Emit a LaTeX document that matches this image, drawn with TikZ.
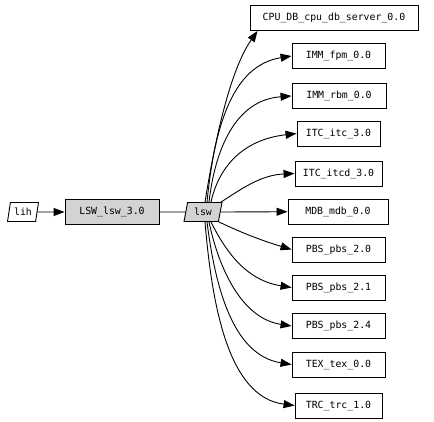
\documentclass[tikz,border=0pt]{standalone}
\usepackage{fontspec}
\setmonofont{DejaVu Sans Mono}
\usetikzlibrary{shapes.geometric,arrows.meta}
\definecolor{boxgray}{RGB}{211,211,211}
\begin{document}
\begin{tikzpicture}[x=1bp,y=-1bp,
  every node/.style={font=\ttfamily\fontsize{9.9}{11}\selectfont, inner sep=0pt, line width=0.9bp},
  tbox/.style={draw, rectangle, minimum height=25bp},
  para/.style={draw, trapezium, trapezium left angle=75, trapezium right angle=105, trapezium stretches=true, minimum height=19bp},
  edge/.style={line width=0.9bp, -{Triangle[length=11bp,width=8bp]}}]
\useasboundingbox (0,0) rectangle (434,421);
\node[para, minimum width=31bp] (lih) at (23,212) {lih};
\node[tbox, fill=boxgray, minimum width=94bp] (lswbox) at (112,212) {LSW\_lsw\_3.0};
\node[para, fill=boxgray, minimum width=38bp] (lsw) at (203,212) {lsw};
\node[tbox, minimum width=168bp] (cpu) at (334,18) {CPU\_DB\_cpu\_db\_server\_0.0};
\node[tbox, minimum width=93bp] (fpm) at (338.5,56) {IMM\_fpm\_0.0};
\node[tbox, minimum width=94bp] (rbm) at (339,96) {IMM\_rbm\_0.0};
\node[tbox, minimum width=83bp] (itc) at (338.5,133.5) {ITC\_itc\_3.0};
\node[tbox, minimum width=87bp] (itcd) at (338.5,173.5) {ITC\_itcd\_3.0};
\node[tbox, minimum width=100bp] (mdb) at (338,211.5) {MDB\_mdb\_0.0};
\node[tbox, minimum width=93bp] (p20) at (338.5,249.5) {PBS\_pbs\_2.0};
\node[tbox, minimum width=93bp] (p21) at (338.5,287.5) {PBS\_pbs\_2.1};
\node[tbox, minimum width=93bp] (p24) at (338.5,326) {PBS\_pbs\_2.4};
\node[tbox, minimum width=93bp] (tex) at (338.5,364.5) {TEX\_tex\_0.0};
\node[tbox, minimum width=87bp] (trc) at (338.5,405.5) {TRC\_trc\_1.0};
\draw[edge] (lih) -- (lswbox);
\draw[line width=0.9bp] (lswbox) -- (lsw);
\draw[edge] ([xshift=2bp]lsw.north) .. controls (215,140) and (230,70) .. ([xshift=8bp]cpu.south west);
\draw[edge] ([xshift=4bp]lsw.north) .. controls (215,120) and (235,65) .. (fpm.west);
\draw[edge] ([xshift=6bp]lsw.north) .. controls (215,150) and (235,100) .. (rbm.west);
\draw[edge] ([xshift=8bp]lsw.north) .. controls (218,170) and (240,140) .. (itc.west);
\draw[edge] ([xshift=18bp]lsw.north) .. controls (240,190) and (260,175) .. (itcd.west);
\draw[edge] (lsw.east) -- (mdb);
\draw[edge] ([xshift=16bp]lsw.south) .. controls (240,232) and (260,240) .. (p20.west);
\draw[edge] ([xshift=8bp]lsw.south) .. controls (225,250) and (245,280) .. (p21.west);
\draw[edge] ([xshift=6bp]lsw.south) .. controls (218,265) and (240,318) .. (p24.west);
\draw[edge] ([xshift=4bp]lsw.south) .. controls (215,285) and (232,355) .. (tex.west);
\draw[edge] ([xshift=2bp]lsw.south) .. controls (212,305) and (228,397) .. (trc.west);
\end{tikzpicture}
\end{document}
